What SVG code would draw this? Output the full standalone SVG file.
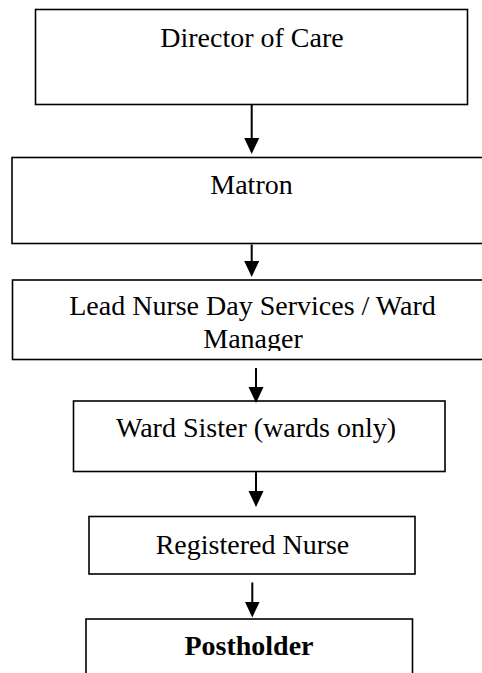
<svg xmlns="http://www.w3.org/2000/svg" width="482" height="673" viewBox="0 0 482 673">
<style>
.box{fill:#fff;stroke:#000;stroke-width:1.6}
.lbl{font-family:"Liberation Serif","Times New Roman",serif;font-size:28px;fill:#000;text-anchor:middle}
.b{font-weight:bold}
.conn{stroke:#000;stroke-width:2;fill:none}
</style>
<defs>
<marker id="ah" markerUnits="userSpaceOnUse" markerWidth="16" markerHeight="16" viewBox="0 0 16 16" refX="6" refY="7.5" orient="auto">
<path d="M0,0 L16,7.5 L0,15 z" fill="#000"/>
</marker>
<clipPath id="clip3"><rect x="12" y="281" width="480" height="70"/></clipPath>
</defs>
<rect width="482" height="673" fill="#fff"/>
<g id="n1">
<rect class="box" x="35.5" y="9.5" width="432" height="95"/>
<text class="lbl" x="252" y="47">Director of Care</text>
</g>
<g id="n2">
<rect class="box" x="12" y="157.5" width="480" height="86"/>
<text class="lbl" x="251.5" y="193.5">Matron</text>
</g>
<g id="n3">
<rect class="box" x="12.5" y="280" width="480" height="79.5"/>
<g clip-path="url(#clip3)">
<text class="lbl" x="252.5" y="315">Lead Nurse Day Services / Ward</text>
<text class="lbl" x="253" y="348">Manager</text>
</g>
</g>
<g id="n4">
<rect class="box" x="73.5" y="401" width="371.5" height="70.5"/>
<text class="lbl" x="256" y="436.5">Ward Sister (wards only)</text>
</g>
<g id="n5">
<rect class="box" x="89" y="516.5" width="326" height="57.5"/>
<text class="lbl" x="252.5" y="553.5">Registered Nurse</text>
</g>
<g id="n6">
<rect class="box" x="86" y="619" width="326.5" height="70"/>
<text class="lbl b" x="249" y="655">Postholder</text>
</g>
<g id="connectors">
<line class="conn" x1="251.7" y1="105" x2="251.7" y2="144" marker-end="url(#ah)"/>
<line class="conn" x1="251.7" y1="244.5" x2="251.7" y2="267" marker-end="url(#ah)"/>
<line class="conn" x1="256" y1="368" x2="256" y2="393" marker-end="url(#ah)"/>
<line class="conn" x1="256" y1="472" x2="256" y2="497" marker-end="url(#ah)"/>
<line class="conn" x1="252.3" y1="582.5" x2="252.3" y2="607.5" marker-end="url(#ah)"/>
</g>
</svg>
